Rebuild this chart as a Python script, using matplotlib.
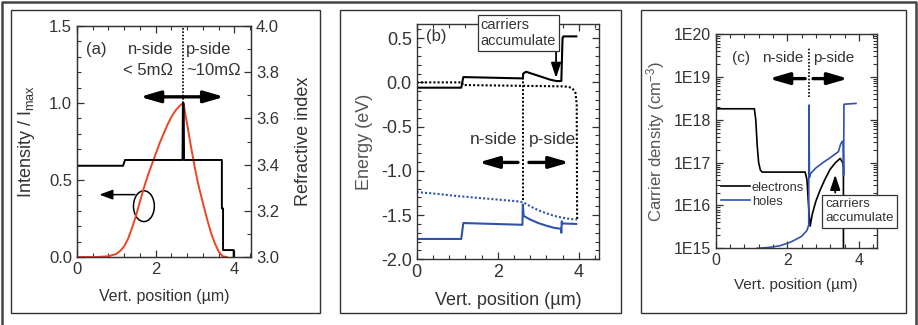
import matplotlib.pyplot as plt
from matplotlib.patches import Ellipse, Rectangle
from matplotlib.lines import Line2D
from matplotlib.ticker import MultipleLocator, LogLocator, FuncFormatter, NullFormatter
import numpy as np

plt.rcParams['font.family'] = 'Liberation Sans'
plt.rcParams['mathtext.fontset'] = 'custom'
plt.rcParams['mathtext.rm'] = 'Liberation Sans'
plt.rcParams['mathtext.it'] = 'Liberation Sans:italic'
plt.rcParams['axes.unicode_minus'] = False

# ---- (a) optical mode intensity and refractive index profile ----
pos_a = [0.0, 0.5, 0.8, 1.0, 1.1, 1.2, 1.3, 1.4, 1.5, 1.6, 1.7, 1.8, 1.9, 2.0,
         2.1, 2.2, 2.3, 2.4, 2.5, 2.6, 2.7, 2.8, 2.9, 3.0, 3.1, 3.2, 3.3, 3.4,
         3.5, 3.6, 3.7, 3.8]
intensity = [0.0, 0.0, 0.005, 0.02, 0.04, 0.07, 0.12, 0.19, 0.27, 0.36, 0.45,
             0.53, 0.60, 0.67, 0.74, 0.80, 0.86, 0.91, 0.95, 0.98, 1.0, 0.86,
             0.71, 0.57, 0.45, 0.35, 0.25, 0.16, 0.09, 0.035, 0.005, 0.0]
index_pos = [0.0, 1.17, 1.22, 2.68, 2.69, 2.71, 2.72, 3.68, 3.68, 3.71, 3.71, 3.98, 3.98]
index_val = [3.395, 3.395, 3.42, 3.42, 3.665, 3.665, 3.42, 3.42, 3.21, 3.21, 3.03, 3.03, 3.0]

# ---- (b) band diagram ----
cb_pos = [0.0, 1.1, 1.15, 2.62, 2.63, 2.7, 2.9, 3.1, 3.3, 3.45, 3.57, 3.6, 3.62, 3.94]
cb_E = [-0.06, -0.06, 0.06, 0.045, 0.10, 0.12, 0.09, 0.06, 0.03, 0.015, 0.015, 0.5, 0.52, 0.52]
efn_pos = [0.0, 1.12, 1.14, 3.6, 3.75, 3.85, 3.92, 3.95, 3.96]
efn_E = [0.0, 0.0, -0.03, -0.045, -0.05, -0.07, -0.12, -0.25, -1.55]
efp_pos = [0.0, 0.5, 1.0, 1.5, 2.0, 2.5, 2.63, 2.8, 3.0, 3.2, 3.4, 3.6, 3.8, 3.96]
efp_E = [-1.24, -1.26, -1.285, -1.305, -1.325, -1.345, -1.355, -1.40, -1.445,
         -1.48, -1.51, -1.53, -1.545, -1.55]
vb_pos = [0.0, 1.1, 1.15, 2.61, 2.62, 2.64, 2.8, 3.0, 3.2, 3.4, 3.56, 3.57, 3.58, 3.6, 3.94]
vb_E = [-1.77, -1.77, -1.59, -1.61, -1.38, -1.51, -1.55, -1.59, -1.62, -1.645,
        -1.655, -1.70, -1.57, -1.595, -1.60]

# ---- (c) carrier densities ----
el_pos = [0.0, 1.08, 1.12, 1.16, 1.2, 1.25, 1.3, 2.5, 2.55, 2.58, 2.61, 2.64, 2.7,
          2.8, 2.92, 3.05, 3.2, 3.35, 3.48, 3.55, 3.57, 3.571]
electrons = [1.8e18, 1.8e18, 1.0e18, 2.5e17, 1.0e17, 6.6e16, 6.0e16, 6.0e16, 4.0e16,
             1.6e16, 6.3e15, 3.3e15, 6.3e15, 1.26e16, 2.3e16, 4.0e16, 7.0e16,
             1.0e17, 1.25e17, 1.0e17, 8.0e16, 1.0e14]
ho_pos = [1.15, 1.5, 1.8, 2.1, 2.4, 2.55, 2.6, 2.605, 2.62, 2.65, 2.8, 3.0, 3.2,
          3.43, 3.48, 3.52, 3.56, 3.575, 3.585, 3.92]
holes = [1.0e15, 1.05e15, 1.15e15, 1.4e15, 1.9e15, 2.6e15, 3.5e15, 2.2e18, 4.5e16,
         5.5e16, 7.5e16, 1.0e17, 1.3e17, 1.8e17, 2.5e17, 3.0e17, 3.2e17, 5.0e16,
         2.3e18, 2.4e18]

RED = '#ee4420'
BLUE = '#2f52ad'
INK = '#333333'
W, H = 918, 325


def px_rect(l, t, r, b):
    return [l / W, 1 - b / H, (r - l) / W, (b - t) / H]


def style(ax, fs, xmax):
    ax.set_xlim(0, xmax)
    ax.xaxis.set_major_locator(MultipleLocator(2))
    ax.xaxis.set_minor_locator(MultipleLocator(0.4))
    ax.tick_params(which='both', direction='in', top=True, right=True,
                   labelsize=fs, color=INK, labelcolor=INK)
    ax.tick_params(which='major', length=5, width=0.9)
    ax.tick_params(which='minor', length=3, width=0.8)
    for s in ax.spines.values():
        s.set_color(INK)
        s.set_linewidth(1.0)


def big_arrow(ax, x0, x1, y):
    ax.annotate('', xy=(x1, y), xytext=(x0, y),
                arrowprops=dict(arrowstyle='-|>,head_length=1.2,head_width=0.35',
                                mutation_scale=10, lw=2.4, color='black',
                                shrinkA=0, shrinkB=0))


fig = plt.figure(figsize=(9.18, 3.25), dpi=100)

# panel frames and outer border
for l, r in [(11, 320), (340, 621), (641, 906)]:
    fig.add_artist(Rectangle((l / W, 1 - 313 / H), (r - l) / W, 303 / H,
                             transform=fig.transFigure, fill=False, ec=INK, lw=1.0))
fig.add_artist(Line2D([1.5 / W, 1.5 / W, 916 / W, 916 / W], [0, 1 - 1.5 / H, 1 - 1.5 / H, 0],
                      transform=fig.transFigure, color='#444444', lw=1.8))

# ---------------- panel (a) ----------------
ax = fig.add_axes(px_rect(77, 26, 251, 257))
style(ax, 12, 4.42)
ax.tick_params(right=False)
ax.set_ylim(0, 1.5)
ax.yaxis.set_major_locator(MultipleLocator(0.5))
ax.yaxis.set_minor_locator(MultipleLocator(0.1))
ax.plot(pos_a, intensity, color=RED, lw=1.4)
ax.set_ylabel('Intensity / I$_{\\mathrm{max}}$', fontsize=13, color=INK)
ax.yaxis.set_label_coords(-0.23, 0.5)
ax.set_xlabel('Vert. position (µm)', fontsize=11.5, color=INK)
ax.xaxis.set_label_coords(0.5, -0.14)

ax2 = ax.twinx()
ax2.set_ylim(3.0, 4.0)
ax2.yaxis.set_major_locator(MultipleLocator(0.2))
ax2.yaxis.set_minor_locator(MultipleLocator(0.1))
ax2.tick_params(which='both', direction='in', labelsize=12, color=INK, labelcolor=INK)
ax2.tick_params(which='major', length=5, width=0.9)
ax2.tick_params(which='minor', length=3, width=0.8)
ax2.plot(index_pos, index_val, color='black', lw=1.4)
ax2.set_ylabel('Refractive index', fontsize=13, color=INK)
ax2.yaxis.set_label_coords(1.25, 0.5)
for s in ax2.spines.values():
    s.set_color(INK)

ax.text(0.23, 1.35, '(a)', fontsize=12, va='center', color=INK)
ax.text(2.45, 1.35, 'n-side', fontsize=12, ha='right', va='center', color=INK)
ax.text(2.45, 1.21, '< 5mΩ', fontsize=12, ha='right', va='center', color=INK)
ax.text(2.77, 1.35, 'p-side', fontsize=12, ha='left', va='center', color=INK)
ax.text(2.77, 1.21, '~10mΩ', fontsize=12, ha='left', va='center', color=INK)
ax.plot([2.7, 2.7], [1.0, 1.5], color='black', lw=1.2, ls=(0, (1, 1)))
big_arrow(ax, 2.68, 1.6, 1.04)
big_arrow(ax, 2.72, 3.74, 1.04)
ax.add_patch(Ellipse((1.70, 0.33), 0.53, 0.2, fill=False, ec='black', lw=1.1))
ax.annotate('', xy=(0.57, 0.405), xytext=(1.47, 0.405),
            arrowprops=dict(arrowstyle='-|>,head_length=0.8,head_width=0.3',
                            mutation_scale=10, lw=1.1, color='black',
                            shrinkA=0, shrinkB=0))

# ---------------- panel (b) ----------------
bx = fig.add_axes(px_rect(416.7, 24, 599, 259.3))
style(bx, 13, 4.5)
bx.set_ylim(-2.0, 0.66)
bx.yaxis.set_major_locator(MultipleLocator(0.5))
bx.yaxis.set_minor_locator(MultipleLocator(0.1))
bx.plot(cb_pos, cb_E, color='black', lw=1.5)
bx.plot(efn_pos, efn_E, color='black', lw=1.5, ls=(0, (1, 1)))
bx.plot(efp_pos, efp_E, color=BLUE, lw=1.5, ls=(0, (1, 1)))
bx.plot(vb_pos, vb_E, color=BLUE, lw=1.5)
bx.plot([2.63, 2.63], [-1.33, 0.05], color='black', lw=1.4, ls=(0, (1, 1)))
bx.set_ylabel('Energy (eV)', fontsize=13, color='#555555')
bx.yaxis.set_label_coords(-0.24, 0.5)
bx.set_xlabel('Vert. position (µm)', fontsize=13, color=INK)
bx.xaxis.set_label_coords(0.5, -0.14)
bx.text(0.23, 0.52, '(b)', fontsize=12, va='center', color=INK)
bx.text(2.48, -0.648, 'n-side', fontsize=12.5, ha='right', va='center', color=INK)
bx.text(2.77, -0.648, 'p-side', fontsize=12.5, ha='left', va='center', color=INK)
big_arrow(bx, 2.5, 1.53, -0.905)
big_arrow(bx, 2.77, 3.77, -0.905)
bx.text(2.51, 0.554, 'carriers\naccumulate', fontsize=10.5, ha='center', va='center',
        multialignment='left', color=INK, clip_on=False, zorder=5,
        bbox=dict(boxstyle='square,pad=0.2', fc='white', ec=INK, lw=0.9))
bx.annotate('', xy=(3.44, 0.05), xytext=(3.44, 0.37),
            arrowprops=dict(arrowstyle='-|>,head_length=0.9,head_width=0.3',
                            mutation_scale=10, lw=1.3, color='black',
                            shrinkA=0, shrinkB=0))

# ---------------- panel (c) ----------------
cx = fig.add_axes(px_rect(715.7, 34, 876.7, 248.3))
style(cx, 11.5, 4.5)
cx.set_yscale('log')
cx.set_ylim(1e15, 1e20)
cx.yaxis.set_major_locator(LogLocator(base=10))
cx.yaxis.set_minor_locator(LogLocator(base=10, subs=np.arange(2, 10)))
cx.yaxis.set_major_formatter(FuncFormatter(lambda v, p: f'1E{int(round(np.log10(v)))}'))
cx.yaxis.set_minor_formatter(NullFormatter())
cx.plot(el_pos, electrons, color='black', lw=1.2, label='electrons')
cx.plot(ho_pos, holes, color=BLUE, lw=1.2, label='holes')
cx.set_ylabel('Carrier density (cm$^{-3}$)', fontsize=12, color='#555555')
cx.yaxis.set_label_coords(-0.30, 0.5)
cx.set_xlabel('Vert. position (µm)', fontsize=11, color=INK)
cx.xaxis.set_label_coords(0.5, -0.14)
cx.legend(loc='upper left', bbox_to_anchor=(0.035, 0.31), frameon=False, fontsize=9.3,
          handlelength=2.2, handletextpad=0.15, labelspacing=0.15, borderpad=0,
          borderaxespad=0, labelcolor=INK)
cx.text(0.45, 2.7e19, '(c)', fontsize=11, va='center', color=INK)
cx.text(2.46, 2.7e19, 'n-side', fontsize=11, ha='right', va='center', color=INK)
cx.text(2.73, 2.7e19, 'p-side', fontsize=11, ha='left', va='center', color=INK)
cx.plot([2.61, 2.61], [3.4e18, 4.7e19], color='black', lw=1.2, ls=(0, (1, 1)))
big_arrow(cx, 2.5, 1.49, 9.1e18)
big_arrow(cx, 2.72, 3.70, 9.1e18)
cx.text(4.03, 7.3e15, 'carriers\naccumulate', fontsize=9.6, ha='center', va='center',
        multialignment='left', color=INK, clip_on=False, zorder=5,
        bbox=dict(boxstyle='square,pad=0.25', fc='white', ec=INK, lw=0.9))
cx.annotate('', xy=(3.34, 5.2e16), xytext=(3.34, 2.0e16),
            arrowprops=dict(arrowstyle='-|>,head_length=0.9,head_width=0.3',
                            mutation_scale=10, lw=1.3, color='black',
                            shrinkA=0, shrinkB=0))

fig.savefig('out.png', dpi=100)
